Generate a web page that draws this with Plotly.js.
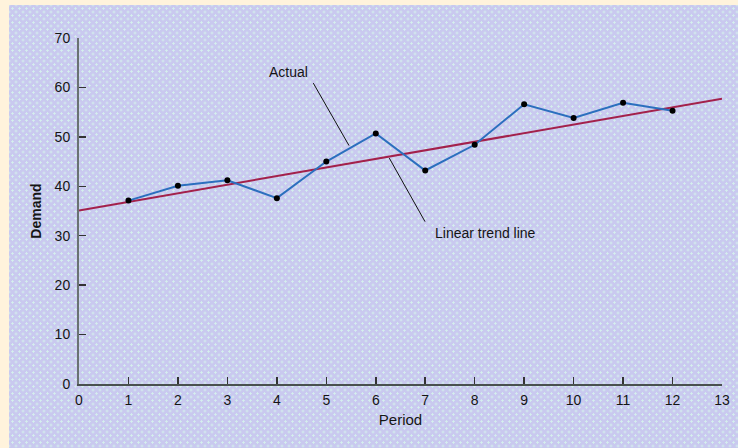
<!DOCTYPE html>
<html>
<head>
<meta charset="utf-8">
<script src="https://cdn.plot.ly/plotly-3.0.1.min.js"></script>
<style>
  html, body { margin: 0; padding: 0; width: 738px; height: 448px; overflow: hidden; background: #FFF3DC; }
  #panel {
    position: absolute; left: 9px; top: 5px; width: 729px; height: 443px;
    background-color: #C9C9EF;
    background-image:
      radial-gradient(circle, #D4F0EC 0.9px, transparent 1.4px),
      radial-gradient(circle, #D4F0EC 0.9px, transparent 1.4px);
    background-size: 7px 7px, 7px 7px;
    background-position: 0 0, 3.5px 3.5px;
  }
  #chart { position: absolute; left: 0; top: 0; width: 738px; height: 448px; }
</style>
</head>
<body>
<div id="panel"></div>
<div id="chart"></div>
<script>
// Data
const periods = [1, 2, 3, 4, 5, 6, 7, 8, 9, 10, 11, 12];
const actualDemand = [37.1, 40.1, 41.2, 37.6, 45.0, 50.7, 43.2, 48.4, 56.6, 53.8, 56.9, 55.3];
const trendPeriods = [0, 13];
const trendDemand = [35.1, 57.7];
const xTicks = [0, 1, 2, 3, 4, 5, 6, 7, 8, 9, 10, 11, 12, 13];
const yTicks = [0, 10, 20, 30, 40, 50, 60, 70];

const fontFamily = 'Arial, "Liberation Sans", Helvetica, sans-serif';
const textColor = '#151515';

const traces = [
  {
    x: trendPeriods, y: trendDemand, mode: 'lines', type: 'scatter',
    line: { color: '#A3214B', width: 2 }, hoverinfo: 'skip', showlegend: false
  },
  {
    x: periods, y: actualDemand, mode: 'lines+markers', type: 'scatter',
    line: { color: '#2B6FBE', width: 2 },
    marker: { color: '#000000', size: 6 }, showlegend: false
  }
];

const layout = {
  width: 738, height: 448,
  paper_bgcolor: 'rgba(0,0,0,0)', plot_bgcolor: 'rgba(0,0,0,0)',
  margin: { l: 79, r: 16, t: 38, b: 64, pad: 0 },
  font: { family: fontFamily, size: 14, color: textColor },
  xaxis: {
    range: [0, 13], tickvals: xTicks, ticktext: xTicks.map(String),
    ticks: 'inside', ticklen: 7, tickwidth: 1.5, tickcolor: '#333',
    showline: true, linecolor: '#4a5050', linewidth: 2, mirror: false,
    showgrid: false, zeroline: false, fixedrange: true,
    ticklabelstandoff: 2,
    tickfont: { family: fontFamily, size: 14, color: textColor },
    title: { text: 'Period', font: { family: fontFamily, size: 15, color: textColor }, standoff: 8 }
  },
  yaxis: {
    range: [0, 70], tickvals: yTicks, ticktext: yTicks.map(String),
    ticks: 'inside', ticklen: 7, tickwidth: 1.5, tickcolor: '#333',
    showline: true, linecolor: '#6a7272', linewidth: 2,
    showgrid: false, zeroline: false, fixedrange: true,
    ticklabelstandoff: 4,
    tickfont: { family: fontFamily, size: 14, color: textColor },
    title: { text: '<b>Demand</b>', font: { family: fontFamily, size: 14, color: textColor }, standoff: 10 }
  },
  shapes: [
    { type: 'line', xref: 'x', yref: 'y', x0: 4.737, y0: 60.87, x1: 5.459, y1: 48.24,
      line: { color: '#111', width: 1 } },
    { type: 'line', xref: 'x', yref: 'y', x0: 6.274, y0: 45.69, x1: 6.996, y1: 32.85,
      line: { color: '#111', width: 1 } }
  ],
  annotations: [
    { x: 4.24, y: 63.2, xref: 'x', yref: 'y', text: 'Actual', showarrow: false,
      font: { family: fontFamily, size: 14, color: textColor } },
    { x: 8.215, y: 30.57, xref: 'x', yref: 'y', text: 'Linear trend line', showarrow: false,
      font: { family: fontFamily, size: 14, color: textColor } }
  ]
};

Plotly.newPlot('chart', traces, layout, { staticPlot: true, displayModeBar: false });
</script>
</body>
</html>
